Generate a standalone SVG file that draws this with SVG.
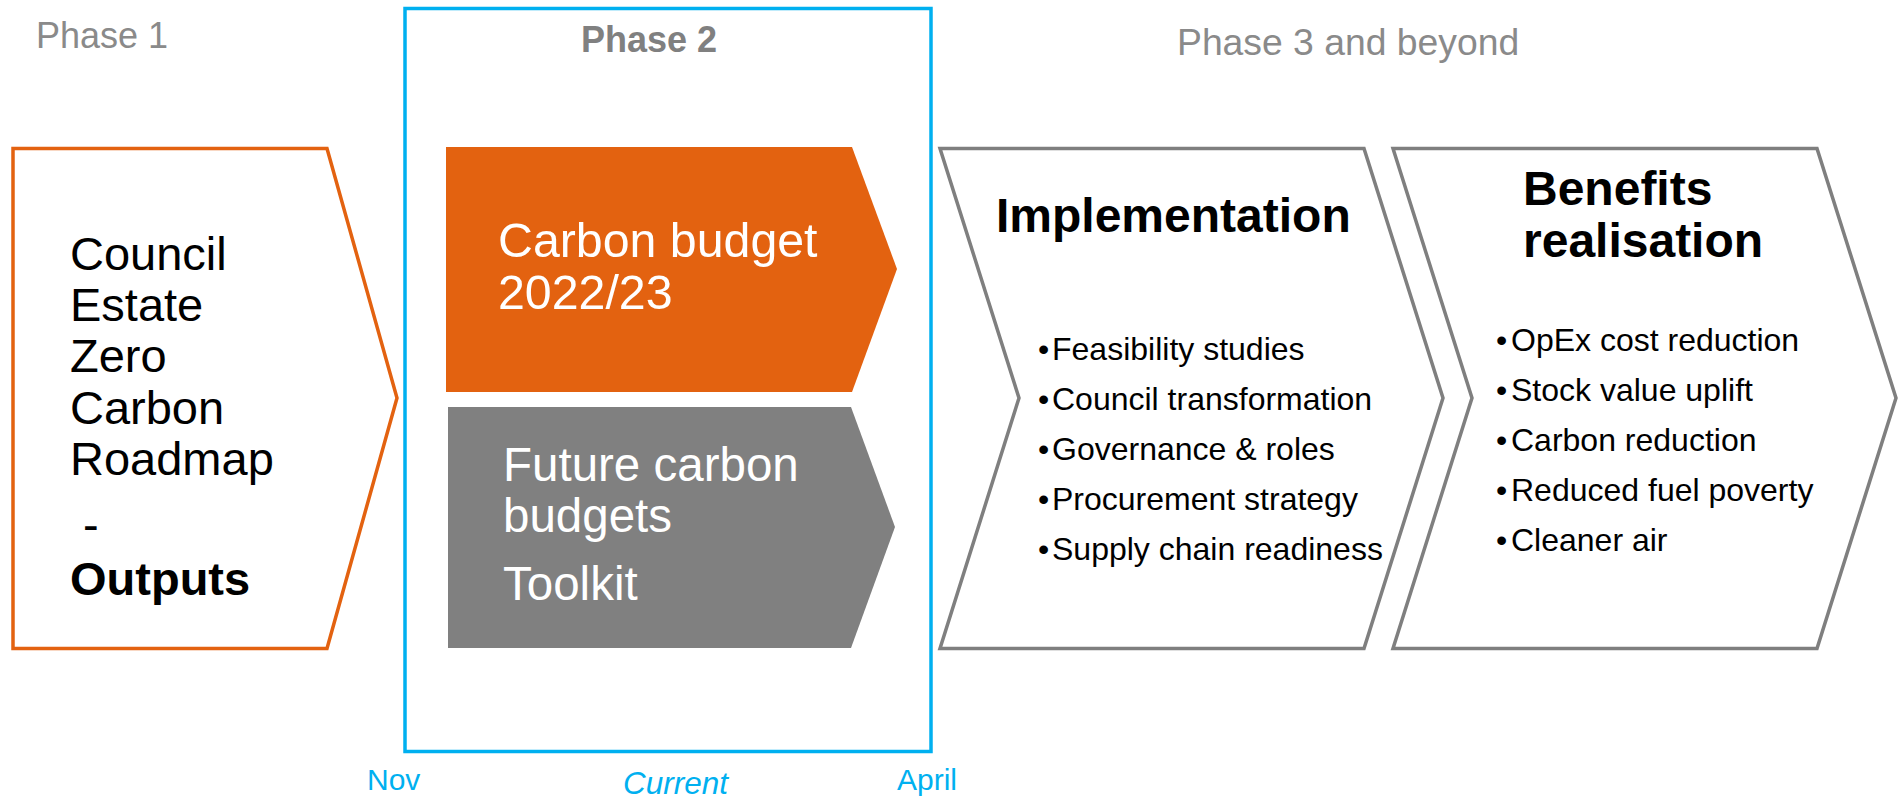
<svg xmlns="http://www.w3.org/2000/svg" width="1900" height="798" viewBox="0 0 1900 798">
<style>
text{font-family:"Liberation Sans",Arial,sans-serif}
.ph{font-size:36px;fill:#8A8A8A}
.phb{font-size:36px;fill:#808080;font-weight:bold}
.big{font-size:47px;fill:#000}
.wt{font-size:47.5px;fill:#fff}
.hd{font-size:48px;font-weight:bold;fill:#000}
.bl{font-size:32px;fill:#000}
.bt{font-size:30px;fill:#00B0F0}
.outl{fill:#fff;stroke:#7F7F7F;stroke-width:3.5;stroke-linejoin:miter}
</style>
<rect width="1900" height="798" fill="#fff"/>
<g id="phase-labels">
<text class="ph" x="36" y="48">Phase 1</text>
<text class="phb" x="581" y="52">Phase 2</text>
<text class="ph" x="1177" y="55" style="font-size:37.3px">Phase 3 and beyond</text>
</g>
<g id="phase2-frame">
<rect x="405" y="8.5" width="526" height="743" fill="none" stroke="#00B0F0" stroke-width="3.5"/>
</g>
<g id="phase1">
<polygon points="13,148.5 327,148.5 397,398 327,648.5 13,648.5" fill="#fff" stroke="#E36210" stroke-width="3.5"/>
<text class="big" x="70" y="270">Council</text>
<text class="big" x="70" y="321">Estate</text>
<text class="big" x="70" y="372">Zero</text>
<text class="big" x="70" y="424">Carbon</text>
<text class="big" x="70" y="475">Roadmap</text>
<text class="big" x="70" y="541" xml:space="preserve"> -</text>
<text class="big" x="70" y="595" font-weight="bold">Outputs</text>
</g>
<g id="carbon-budget">
<polygon points="446,147 852,147 897,269 852,392 446,392" fill="#E36210"/>
<text class="wt" x="498" y="257" style="font-size:48.3px">Carbon budget</text>
<text class="wt" x="498" y="309" style="font-size:48.3px">2022/23</text>
</g>
<g id="future-budgets">
<polygon points="448,407 851,407 895,527 851,648 448,648" fill="#808080"/>
<text class="wt" x="503" y="481">Future carbon</text>
<text class="wt" x="503" y="532">budgets</text>
<text class="wt" x="503" y="600">Toolkit</text>
</g>
<g id="implementation">
<polygon class="outl" points="940,148.5 1364,148.5 1443,398 1364,648.5 940,648.5 1019,398"/>
<text class="hd" x="996" y="232">Implementation</text>
<text class="bl" x="1038" y="360">•</text><text class="bl" x="1052" y="360">Feasibility studies</text>
<text class="bl" x="1038" y="410">•</text><text class="bl" x="1052" y="410">Council transformation</text>
<text class="bl" x="1038" y="460">•</text><text class="bl" x="1052" y="460">Governance &amp; roles</text>
<text class="bl" x="1038" y="510">•</text><text class="bl" x="1052" y="510">Procurement strategy</text>
<text class="bl" x="1038" y="560">•</text><text class="bl" x="1052" y="560">Supply chain readiness</text>
</g>
<g id="benefits">
<polygon class="outl" points="1393,148.5 1817,148.5 1896,398 1817,648.5 1393,648.5 1472,398"/>
<text class="hd" x="1523" y="205">Benefits</text>
<text class="hd" x="1523" y="257">realisation</text>
<text class="bl" x="1496" y="351">•</text><text class="bl" x="1511" y="351">OpEx cost reduction</text>
<text class="bl" x="1496" y="401">•</text><text class="bl" x="1511" y="401">Stock value uplift</text>
<text class="bl" x="1496" y="451">•</text><text class="bl" x="1511" y="451">Carbon reduction</text>
<text class="bl" x="1496" y="501">•</text><text class="bl" x="1511" y="501">Reduced fuel poverty</text>
<text class="bl" x="1496" y="551">•</text><text class="bl" x="1511" y="551">Cleaner air</text>
</g>
<g id="timeline">
<text class="bt" x="367" y="790">Nov</text>
<text class="bt" x="623" y="794" style="font-size:31.5px;font-style:italic">Current</text>
<text class="bt" x="897" y="790">April</text>
</g>
<g id="connectors"></g>
</svg>
